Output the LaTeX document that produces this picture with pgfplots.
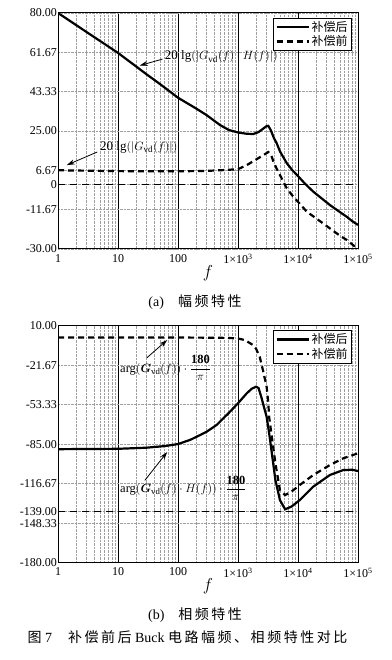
\documentclass[border=0pt]{standalone}
\usepackage{fontspec}
\setmainfont{Liberation Serif}
\newfontfamily\cjk{Noto Sans CJK SC}
\newfontfamily\cjkwide[LetterSpace=18]{Noto Sans CJK SC}
\usepackage{amsmath}
\usepackage{pgfplots}
\pgfplotsset{compat=1.18}
\usetikzlibrary{arrows.meta}

\pgfplotstableread{
f v
1 80
2 74.4
3 71.1
5 67
10 61.4
20 55.1
30 51.4
50 46.9
100 40.5
200 35.5
300 32.4
500 27.8
700 25.5
1000 24.3
1400 23.7
1800 23.6
2200 24.5
2600 26
3000 27.3
3200 27.4
3500 25.5
4000 21.5
4400 19.4
5000 15.5
6500 10
8000 6.8
10000 4.0
13000 0.5
18000 -3.3
25000 -6.5
34000 -9.5
50000 -12.8
65000 -15
80000 -17
100000 -18.8
}\magafter

\pgfplotstableread{
f v
1 6.7
3 6.5
10 6.3
30 6.2
100 6.2
300 6.4
600 6.8
1000 7.2
1400 9.1
2000 11.7
2600 13.6
3200 15.2
3600 13.5
3900 10.7
4400 7.5
5000 4.5
6500 -1.7
8000 -5
10000 -8
14000 -12.6
24000 -17.3
34000 -20.4
50000 -23.8
65000 -25.8
90000 -29
100000 -29.8
}\magbefore

\pgfplotstableread{
f v
1 -89
10 -88.7
30 -87.8
60 -86.5
100 -84.9
160 -81.5
233 -77.7
300 -75
440 -69.6
700 -60
1000 -52.2
1400 -44.2
1700 -40.5
2000 -38.9
2200 -40
2440 -47
2700 -55
3000 -63
3300 -76
3660 -92
4200 -113.7
5000 -129.8
6100 -137.2
7800 -135
10700 -129.8
18000 -119
34000 -109.7
57000 -105.7
80000 -105.5
100000 -106.5
}\phaafter

\pgfplotstableread{
f v
1 0.5
10 0.5
100 0.5
300 0.4
700 0.2
1000 -0.3
1300 -1.5
1780 -5.5
2000 -8.5
2300 -14.9
2600 -25.5
3000 -39
3200 -52
3300 -63
3660 -79
4200 -100.3
5000 -121.8
6100 -125.8
7800 -123
10700 -117.7
18000 -109.7
34000 -101.7
57000 -96.3
100000 -92.3
}\phabefore

\tikzset{
  myafter/.style={black, line width=2.2pt, solid},
  mybefore/.style={black, line width=2.2pt, dash pattern=on 6pt off 4pt},
}

\begin{document}
\begin{tikzpicture}
\path[use as bounding box] (0,0) rectangle (391pt,660pt);

\begin{semilogxaxis}[at={(58pt,411pt)}, anchor=south west,
    scale only axis, width=300pt, height=236pt,
    xmin=1, xmax=100000,
    xtick={1,10,100,1000,10000,100000},
    xticklabels={1,10,100,1×10\textsuperscript{3},1×10\textsuperscript{4},1×10\textsuperscript{5}},
    minor xtick={2,3,4,5,6,7,8,9,20,30,40,50,60,70,80,90,200,300,400,500,600,700,800,900,2000,3000,4000,5000,6000,7000,8000,9000,20000,30000,40000,50000,60000,70000,80000,90000},
    tick style={draw=none},
    grid=both,
    major x grid style={black, line width=0.9pt, solid},
    minor x grid style={gray!75, densely dotted, line width=0.5pt},
    major y grid style={gray!75, densely dotted, line width=0.5pt},
    axis line style={black, line width=1pt},
    ticklabel style={font=\fontsize{12}{13}\selectfont},
    yticklabel style={inner xsep=1pt},
    xticklabel style={inner ysep=5pt},
    xlabel={$f$},
    xlabel style={font=\fontsize{17}{17}\selectfont, inner sep=0pt, yshift=4pt},
    legend style={at={(0.98,0.98)}, anchor=north east, draw=black, line width=0.7pt,
      font=\cjk\fontsize{12}{12}\selectfont, inner xsep=2pt, inner ysep=1pt, row sep=-1pt},
    legend cell align=left,
    legend image code/.code={\draw[#1] (0pt,0pt) -- (32pt,0pt);},
    clip mode=individual,
  ymin=-30, ymax=80,
  ytick={-30,-11.67,0,6.67,25,43.33,61.67,80},
  yticklabels={-30.00,-11.67,0,6.67,25.00,43.33,61.67,80.00}]
\addplot[black, line width=0.8pt, dash pattern=on 7pt off 5pt, forget plot] coordinates {(1,0) (100000,0)};
\addplot[myafter] table[x=f,y=v] {\magafter};
\addlegendentry{补偿后}
\addplot[mybefore] table[x=f,y=v] {\magbefore};
\addlegendentry{补偿前}
\node[anchor=west, font=\fontsize{13}{13}\selectfont, inner sep=0pt] at (axis cs:60,59.5) {20 lg$(|G_{\mathrm{vd}}(f)\cdot H(f)|)$};
\draw[-{Stealth[length=8pt,width=5pt]}, line width=0.8pt] (axis cs:55,58.5) -- (axis cs:23,55.5);
\node[anchor=west, font=\fontsize{13}{13}\selectfont, inner sep=0pt] at (axis cs:5,17.5) {20 lg$(|G_{\mathrm{vd}}(f)|)$};
\draw[-{Stealth[length=8pt,width=5pt]}, line width=0.8pt] (axis cs:4.5,15.2) -- (axis cs:1.4,9.1);
\end{semilogxaxis}

\begin{semilogxaxis}[at={(58pt,97.3pt)}, anchor=south west,
    scale only axis, width=300pt, height=237pt,
    xmin=1, xmax=100000,
    xtick={1,10,100,1000,10000,100000},
    xticklabels={1,10,100,1×10\textsuperscript{3},1×10\textsuperscript{4},1×10\textsuperscript{5}},
    minor xtick={2,3,4,5,6,7,8,9,20,30,40,50,60,70,80,90,200,300,400,500,600,700,800,900,2000,3000,4000,5000,6000,7000,8000,9000,20000,30000,40000,50000,60000,70000,80000,90000},
    tick style={draw=none},
    grid=both,
    major x grid style={black, line width=0.9pt, solid},
    minor x grid style={gray!75, densely dotted, line width=0.5pt},
    major y grid style={gray!75, densely dotted, line width=0.5pt},
    axis line style={black, line width=1pt},
    ticklabel style={font=\fontsize{12}{13}\selectfont},
    yticklabel style={inner xsep=1pt},
    xticklabel style={inner ysep=5pt},
    xlabel={$f$},
    xlabel style={font=\fontsize{17}{17}\selectfont, inner sep=0pt, yshift=4pt},
    legend style={at={(0.98,0.98)}, anchor=north east, draw=black, line width=0.7pt,
      font=\cjk\fontsize{12}{12}\selectfont, inner xsep=2pt, inner ysep=1pt, row sep=-1pt},
    legend cell align=left,
    legend image code/.code={\draw[#1] (0pt,0pt) -- (32pt,0pt);},
    clip mode=individual,
  ymin=-180, ymax=10,
  ytick={-180,-148.33,-139,-116.67,-85,-53.33,-21.67,10},
  yticklabels={-180.00,-148.33,-139.00,-116.67,-85.00,-53.33,-21.67,10.00}]
\addplot[black, line width=0.8pt, dash pattern=on 7pt off 5pt, forget plot] coordinates {(1,-139) (100000,-139)};
\addplot[myafter] table[x=f,y=v] {\phaafter};
\addlegendentry{补偿后}
\addplot[mybefore] table[x=f,y=v] {\phabefore};
\addlegendentry{补偿前}
\node[anchor=west, font=\fontsize{12.5}{13}\selectfont, inner sep=0pt] at (axis cs:10.8,-23.9) {arg$(\boldsymbol{G}_{\mathrm{vd}}(f))\cdot\dfrac{\mathbf{180}}{\pi}$};
\draw[-{Stealth[length=8pt,width=5pt]}, line width=0.8pt] (axis cs:30,-15.9) -- (axis cs:66,-1.5);
\node[anchor=west, font=\fontsize{12.5}{13}\selectfont, inner sep=0pt] at (axis cs:10.8,-120.4) {arg$(\boldsymbol{G}_{\mathrm{vd}}(f)\cdot H(f))\cdot\dfrac{\mathbf{180}}{\pi}$};
\draw[-{Stealth[length=8pt,width=5pt]}, line width=0.8pt] (axis cs:28,-114) -- (axis cs:66,-91.3);
\end{semilogxaxis}

\node[font=\fontsize{14}{14}\selectfont] at (195pt,358pt) {(a)\hspace{14pt}{\cjk 幅\hspace{2.5pt}频\hspace{2.5pt}特\hspace{2.5pt}性}};
\node[font=\fontsize{14}{14}\selectfont] at (195pt,45pt) {(b)\hspace{14pt}{\cjk 相\hspace{2.5pt}频\hspace{2.5pt}特\hspace{2.5pt}性}};
\node[anchor=west, font=\fontsize{14}{14}\selectfont] at (24pt,23pt) {{\cjkwide 图} 7\hspace{16pt}{\cjkwide 补偿前后} Buck {\cjkwide 电路幅频、相频特性对比}};
\end{tikzpicture}
\end{document}
